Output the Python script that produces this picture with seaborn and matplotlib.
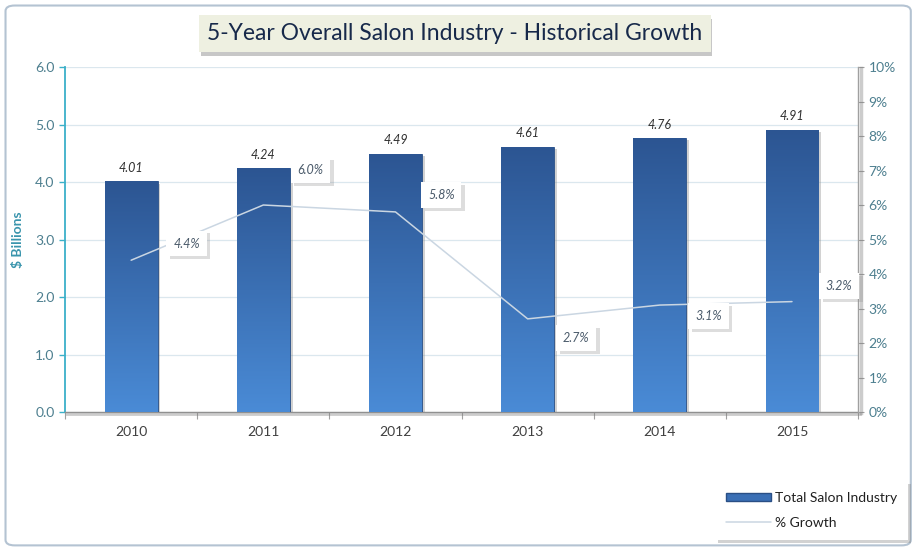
import numpy as np
import pandas as pd
import matplotlib
matplotlib.use("Agg")
import matplotlib.pyplot as plt
import matplotlib.patheffects as pe
from matplotlib.patches import Patch, FancyBboxPatch, Rectangle
from matplotlib.lines import Line2D
from matplotlib.ticker import PercentFormatter, FixedLocator
import seaborn as sns

years = ["2010", "2011", "2012", "2013", "2014", "2015"]
revenue = [4.01, 4.24, 4.49, 4.61, 4.76, 4.91]
growth = [0.044, 0.060, 0.058, 0.027, 0.031, 0.032]
growth_labels = ["4.4%", "6.0%", "5.8%", "2.7%", "3.1%", "3.2%"]

sns.set_theme(style="white")
plt.rcParams['font.family'] = ['Lato', 'DejaVu Sans']

fig = plt.figure(figsize=(9.2, 5.52), dpi=100)
fig.patch.set_facecolor("white")

# outer frame
frame = FancyBboxPatch((0.006, 0.012), 0.984, 0.978, boxstyle="round,pad=0,rounding_size=0.01",
                       transform=fig.transFigure, facecolor="none", edgecolor="#b4c3d2",
                       linewidth=1.5, zorder=0)
fig.patches.append(frame)

ax = fig.add_axes([0.0707, 0.2536, 0.862, 0.625])
df = pd.DataFrame({"year": years, "revenue": revenue})
sns.barplot(data=df, x="year", y="revenue", ax=ax, width=0.4, color="#3a6fb5",
            saturation=1, edgecolor="#2a4f85", linewidth=0.6, zorder=3)

# gradient fill on bars
grad = np.linspace(0, 1, 256).reshape(-1, 1)
cmap = matplotlib.colors.LinearSegmentedColormap.from_list("b", ["#4a8bd6", "#2c5592"])
for p in ax.patches:
    x0, y0 = p.get_x(), p.get_y()
    w, h = p.get_width(), p.get_height()
    im = ax.imshow(grad, extent=(x0, x0 + w, y0, y0 + h), origin="lower", aspect="auto",
                   cmap=cmap, zorder=3.5)
    im.set_clip_path(p)
    p.set_path_effects([pe.withSimplePatchShadow(offset=(2, -1.5), shadow_rgbFace="#808080", alpha=0.35)])
ax.set_aspect("auto")
ax.set_xlim(-0.5, 5.5)
ax.set_ylim(0, 6.0)

# bar value labels
for i, v in enumerate(revenue):
    ax.text(i, v + 0.13, f"{v:.2f}", ha="center", va="bottom", fontsize=9,
            style="italic", color="#303030", zorder=6)

ax.set_yticks(np.arange(0, 6.01, 1.0))
ax.set_yticklabels([f"{t:.1f}" for t in np.arange(0, 6.01, 1.0)])
ax.grid(axis="y", color="#dbe7ee", linewidth=0.9, zorder=0)
ax.set_axisbelow(True)
ax.tick_params(axis="y", colors="#3bb0c9", labelcolor="#4d7f8f", labelsize=10, length=4,
               direction="out", left=True, width=1)
ax.tick_params(axis="x", labelcolor="#404040", labelsize=10, length=0, pad=10)
ax.xaxis.set_minor_locator(FixedLocator(np.arange(-0.5, 5.6, 1.0)))
ax.tick_params(axis="x", which="minor", bottom=True, length=5, color="#a0a0a0", width=0.8)
ax.set_xlabel("")
ax.set_ylabel(r"\$ Billions", color="#3a95ad", fontsize=10, fontweight="bold", labelpad=8)

for s in ["top", "right"]:
    ax.spines[s].set_visible(False)
ax.spines["left"].set_color("#3bb0c9")
ax.spines["left"].set_linewidth(1.3)
ax.spines["bottom"].set_color("#909090")
ax.spines["bottom"].set_linewidth(1.0)
ax.spines["bottom"].set_path_effects([pe.SimpleLineShadow(offset=(1.5, -1.5), shadow_color="#808080", alpha=0.4, linewidth=2), pe.Normal()])

# secondary axis: growth line
ax2 = ax.twinx()
sns.lineplot(x=np.arange(len(years)), y=growth, ax=ax2, color="#cad6e2", linewidth=1.1, zorder=4)
ax2.set_ylim(0, 0.10)
ax2.set_xlim(-0.5, 5.5)
ax2.set_yticks(np.arange(0, 0.101, 0.01))
ax2.yaxis.set_major_formatter(PercentFormatter(1.0, decimals=0))
ax2.tick_params(axis="y", colors="#a0a0a0", labelcolor="#4d7f8f", labelsize=10, length=4,
                direction="out", right=True, width=0.8)
for s in ["top", "left", "bottom"]:
    ax2.spines[s].set_visible(False)
ax2.spines["right"].set_color("#a0a0a0")
ax2.spines["right"].set_linewidth(1.0)
ax2.spines["right"].set_path_effects([pe.SimpleLineShadow(offset=(2, -1), shadow_color="#808080", alpha=0.4, linewidth=2.5), pe.Normal()])
ax2.grid(False)
ax2.set_ylabel("")

label_offsets = [(40, 12), (34, 25), (33, 12), (35, -14), (35, -8), (34, 11)]
for i, (g, lab) in enumerate(zip(growth, growth_labels)):
    t = ax2.annotate(lab, xy=(i, g), xytext=label_offsets[i], textcoords="offset points",
                     ha="center", va="center", fontsize=9, style="italic", color="#4a5a6a",
                     bbox=dict(boxstyle="square,pad=0.55", facecolor="white", edgecolor="none"),
                     zorder=7, annotation_clip=False)
    t.get_bbox_patch().set_path_effects([pe.withSimplePatchShadow(offset=(2.5, -2), shadow_rgbFace="#909090", alpha=0.3)])

# title
tt = fig.text(0.4946, 0.94, "5-Year Overall Salon Industry - Historical Growth", ha="center", va="center",
              fontsize=16.5, color="#17294a",
              bbox=dict(boxstyle="square,pad=0.35", facecolor="#eef0e1", edgecolor="none"))
tt.get_bbox_patch().set_path_effects([pe.withSimplePatchShadow(offset=(1, -3), shadow_rgbFace="#606060", alpha=0.35)])

# legend
handles = [Patch(facecolor="#3a6fb5", edgecolor="#2a4f85"),
           Line2D([0], [0], color="#cad6e2", linewidth=1.1)]
leg = fig.legend(handles, ["Total Salon Industry", "% Growth"], loc="lower right",
                 bbox_to_anchor=(0.987, 0.022), borderaxespad=0, fontsize=10, frameon=True,
                 fancybox=False, handlelength=3.2, handleheight=0.5, borderpad=0.8,
                 labelspacing=0.9, handletextpad=0.3, labelcolor="#202020", framealpha=1)
leg.get_frame().set_edgecolor("none")
leg.get_frame().set_facecolor("white")
leg.set_zorder(6)

fig.canvas.draw()
bb = leg.get_frame().get_window_extent(fig.canvas.get_renderer())
inv = fig.transFigure.inverted()
(fx0, fy0), (fx1, fy1) = inv.transform([[bb.x0 + 3, bb.y0 - 3], [bb.x1 + 3, bb.y1 - 3]])
shadow = Rectangle((fx0, fy0), fx1 - fx0, fy1 - fy0, transform=fig.transFigure,
                   facecolor="#808080", alpha=0.35, edgecolor="none", zorder=5)
fig.patches.append(shadow)

fig.savefig("out.png", dpi=100, facecolor="white")
